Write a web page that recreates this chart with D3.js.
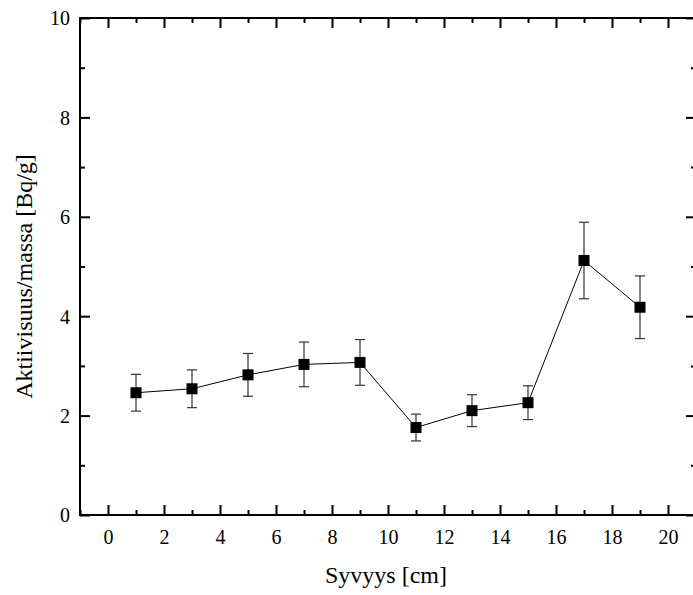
<!DOCTYPE html>
<html>
<head>
<meta charset="utf-8">
<script src="https://cdn.jsdelivr.net/npm/d3@7"></script>
<style>
  html, body { margin: 0; padding: 0; background: #fff; }
  svg { display: block; }
</style>
</head>
<body>
<svg id="chart" width="693" height="595"></svg>
<script>
// Depth of each sample slice (cm)
const depths = [1, 3, 5, 7, 9, 11, 13, 15, 17, 19];
// Specific activity (Bq/g)
const activity = [2.46, 2.54, 2.82, 3.03, 3.07, 1.76, 2.10, 2.26, 5.12, 4.18];
// Uncertainty of each value (Bq/g)
const uncertainty = [0.37, 0.38, 0.43, 0.45, 0.46, 0.27, 0.32, 0.34, 0.77, 0.63];
// Axis tick labels
const xTicks = [0, 2, 4, 6, 8, 10, 12, 14, 16, 18, 20];
const yTicks = [0, 2, 4, 6, 8, 10];
const xMinor = [-1, 1, 3, 5, 7, 9, 11, 13, 15, 17, 19, 21];
const yMinor = [1, 3, 5, 7, 9];

const fontFam = '"Liberation Serif"';
const svg = d3.select("#chart");
const plotLeft = 80, plotRight = 696, plotTop = 18, plotBottom = 515;

const x = d3.scaleLinear().domain([-1, 21]).range([plotLeft, plotRight]);
const y = d3.scaleLinear().domain([0, 10]).range([plotBottom, plotTop]);

const axisStyle = g => {
  g.attr("font-family", null).attr("font-size", null);
  g.select(".domain").remove();
  g.selectAll(".tick line").attr("stroke", "#000").attr("stroke-width", 2);
  g.selectAll(".tick text")
    .attr("fill", "#000")
    .style("font-family", fontFam)
    .style("font-size", "20px");
};

// bottom axis: inward major ticks with labels
svg.append("g").attr("transform", `translate(0,${plotBottom})`)
  .call(d3.axisBottom(x).tickValues(xTicks).tickSize(-10).tickPadding(10).tickFormat(d3.format("d")))
  .call(axisStyle)
  .call(g => g.selectAll(".tick text").attr("dy", "0.95em"));
svg.append("g").attr("transform", `translate(0,${plotBottom})`)
  .call(d3.axisBottom(x).tickValues(xMinor).tickSize(-5).tickFormat(""))
  .call(axisStyle);

// top axis: inward ticks, no labels
svg.append("g").attr("transform", `translate(0,${plotTop})`)
  .call(d3.axisTop(x).tickValues(xTicks).tickSize(-10).tickFormat(""))
  .call(axisStyle);
svg.append("g").attr("transform", `translate(0,${plotTop})`)
  .call(d3.axisTop(x).tickValues(xMinor).tickSize(-5).tickFormat(""))
  .call(axisStyle);

// left axis with labels
svg.append("g").attr("transform", `translate(${plotLeft},0)`)
  .call(d3.axisLeft(y).tickValues(yTicks).tickSize(-10).tickPadding(10).tickFormat(d3.format("d")))
  .call(axisStyle)
  .call(g => g.selectAll(".tick text").attr("dy", "0.34em"));
svg.append("g").attr("transform", `translate(${plotLeft},0)`)
  .call(d3.axisLeft(y).tickValues(yMinor).tickSize(-5).tickFormat(""))
  .call(axisStyle);

// right axis: inward ticks, no labels
svg.append("g").attr("transform", `translate(${plotRight},0)`)
  .call(d3.axisRight(y).tickValues(yTicks).tickSize(-10).tickFormat(""))
  .call(axisStyle);
svg.append("g").attr("transform", `translate(${plotRight},0)`)
  .call(d3.axisRight(y).tickValues(yMinor).tickSize(-5).tickFormat(""))
  .call(axisStyle);

// frame
svg.append("rect")
  .attr("x", plotLeft).attr("y", plotTop)
  .attr("width", plotRight - plotLeft).attr("height", plotBottom - plotTop)
  .attr("fill", "none").attr("stroke", "#000").attr("stroke-width", 2);

const data = depths.map((d, i) => ({ d, v: activity[i], e: uncertainty[i] }));

// connecting line
svg.append("path")
  .datum(data)
  .attr("fill", "none")
  .attr("stroke", "#000")
  .attr("stroke-width", 1)
  .attr("d", d3.line().x(p => x(p.d)).y(p => y(p.v)));

// error bars
const eb = svg.append("g").attr("stroke", "#333").attr("stroke-width", 1.2);
data.forEach(p => {
  const cx = x(p.d);
  eb.append("line").attr("x1", cx).attr("x2", cx).attr("y1", y(p.v - p.e)).attr("y2", y(p.v + p.e));
  eb.append("line").attr("x1", cx - 5).attr("x2", cx + 5).attr("y1", y(p.v + p.e)).attr("y2", y(p.v + p.e));
  eb.append("line").attr("x1", cx - 5).attr("x2", cx + 5).attr("y1", y(p.v - p.e)).attr("y2", y(p.v - p.e));
});

// square markers
svg.append("g").selectAll("rect")
  .data(data)
  .join("rect")
  .attr("x", p => x(p.d) - 5.5)
  .attr("y", p => y(p.v) - 5.5)
  .attr("width", 11).attr("height", 11)
  .attr("fill", "#000");

// axis titles
svg.append("text")
  .attr("x", 386).attr("y", 583)
  .attr("text-anchor", "middle")
  .attr("fill", "#000")
  .style("font-family", fontFam)
  .style("font-size", "24px")
  .text("Syvyys [cm]");

svg.append("text")
  .attr("transform", `translate(32,${(plotTop + plotBottom) / 2 + 10}) rotate(-90)`)
  .attr("text-anchor", "middle")
  .attr("fill", "#000")
  .style("font-family", fontFam)
  .style("font-size", "24px")
  .text("Aktiivisuus/massa [Bq/g]");
</script>
</body>
</html>
